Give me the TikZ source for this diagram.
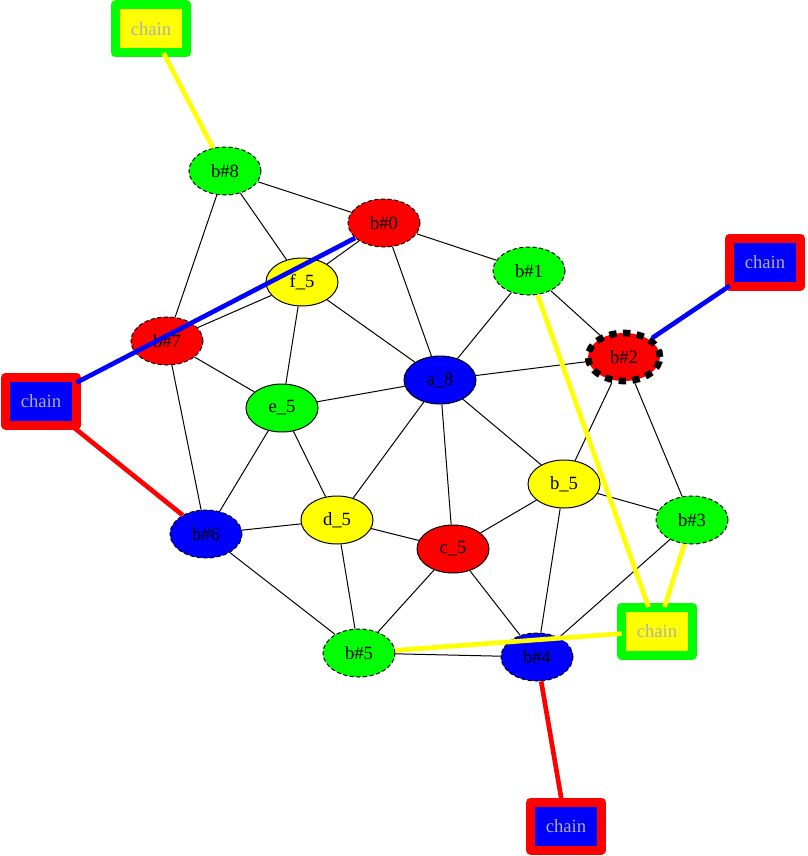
\documentclass[tikz,border=0pt]{standalone}
\usepackage{fontspec}
\setmainfont{Liberation Serif}
\usetikzlibrary{shapes.geometric}
\definecolor{gvred}{RGB}{255,0,0}
\definecolor{gvgreen}{RGB}{0,255,0}
\definecolor{gvblue}{RGB}{0,0,255}
\definecolor{gvyellow}{RGB}{255,255,0}
\definecolor{chaingray}{RGB}{175,175,175}

\begin{document}
\begin{tikzpicture}[x=0.75pt,y=-0.75pt,
  vtx/.style={ellipse,draw=black,line width=0.75pt,minimum width=54pt,minimum height=36pt,inner sep=0pt,font=\fontsize{14}{16}\selectfont},
  dsh/.style={vtx,dash pattern=on 3pt off 2pt},
  chainbox/.style={rectangle,line width=6.75pt,line join=round,minimum width=53pt,minimum height=36pt,inner sep=0pt,outer sep=0pt,text=chaingray,font=\fontsize{14}{16}\selectfont},
  edge/.style={black,line width=0.75pt},
  link/.style={line width=3.5pt}]
\useasboundingbox (0,0) rectangle (807,856);
% chain boxes
\node[chainbox,fill=gvyellow,draw=gvgreen] (chT) at (151,29) {chain};
\node[chainbox,fill=gvblue,draw=gvred] (chR) at (765,262) {chain};
\node[chainbox,fill=gvblue,draw=gvred] (chL) at (41,401) {chain};
\node[chainbox,fill=gvyellow,draw=gvgreen] (chY) at (657,631) {chain};
\node[chainbox,fill=gvblue,draw=gvred] (chB) at (566,826) {chain};
% vertices
\node[dsh,fill=gvgreen] (b8) at (225,171) {b\#8};
\node[dsh,fill=gvred] (b0) at (384,223) {b\#0};
\node[vtx,fill=gvyellow] (f5) at (302,282) {f\_5};
\node[dsh,fill=gvgreen] (b1) at (529,271) {b\#1};
\node[vtx,fill=gvred,line width=5pt,dash pattern=on 5.5pt off 4.8pt] (b2) at (624,357) {b\#2};
\node[dsh,fill=gvred] (b7) at (167,341) {b\#7};
\node[vtx,fill=gvblue] (a8) at (440,380) {a\_8};
\node[vtx,fill=gvgreen] (e5) at (282,408) {e\_5};
\node[vtx,fill=gvyellow] (b5) at (564,484) {b\_5};
\node[dsh,fill=gvgreen] (b3) at (692,520) {b\#3};
\node[vtx,fill=gvyellow] (d5) at (337,520) {d\_5};
\node[dsh,fill=gvblue] (b6) at (206,534) {b\#6};
\node[vtx,fill=gvred] (c5) at (453,549) {c\_5};
\node[dsh,fill=gvgreen] (b5h) at (359,653) {b\#5};
\node[dsh,fill=gvblue] (b4) at (537,657) {b\#4};
% black edges
\draw[edge] (b8) -- (b0);
\draw[edge] (b8) -- (f5);
\draw[edge] (b8) -- (b7);
\draw[edge] (b0) -- (b1);
\draw[edge] (b0) -- (a8);
\draw[edge] (b0) -- (f5);
\draw[edge] (b1) -- (a8);
\draw[edge] (b1) -- (b2);
\draw[edge] (b2) -- (a8);
\draw[edge] (b2) -- (b5);
\draw[edge] (b2) -- (b3);
\draw[edge] (f5) -- (a8);
\draw[edge] (f5) -- (e5);
\draw[edge] (f5) -- (b7);
\draw[edge] (b7) -- (e5);
\draw[edge] (b7) -- (b6);
\draw[edge] (e5) -- (a8);
\draw[edge] (e5) -- (b6);
\draw[edge] (e5) -- (d5);
\draw[edge] (a8) -- (d5);
\draw[edge] (a8) -- (c5);
\draw[edge] (a8) -- (b5);
\draw[edge] (b5) -- (c5);
\draw[edge] (b5) -- (b3);
\draw[edge] (b5) -- (b4);
\draw[edge] (d5) -- (b6);
\draw[edge] (d5) -- (c5);
\draw[edge] (d5) -- (b5h);
\draw[edge] (b6) -- (b5h);
\draw[edge] (c5) -- (b5h);
\draw[edge] (c5) -- (b4);
\draw[edge] (b3) -- (b4);
\draw[edge] (b5h) -- (b4);
% chain links
\draw[link,gvyellow] (chT) -- (b8);
\draw[link,gvblue] (chR) -- (b2);
\draw[link,gvblue] (chL) -- (b0);
\draw[link,gvred] (chL) -- (b6);
\draw[link,gvyellow] (chY) -- (b1);
\draw[link,gvyellow] (chY) -- (b3);
\draw[link,gvyellow] (chY) -- (b5h);
\draw[link,gvred] (chB) -- (b4);
\end{tikzpicture}
\end{document}
